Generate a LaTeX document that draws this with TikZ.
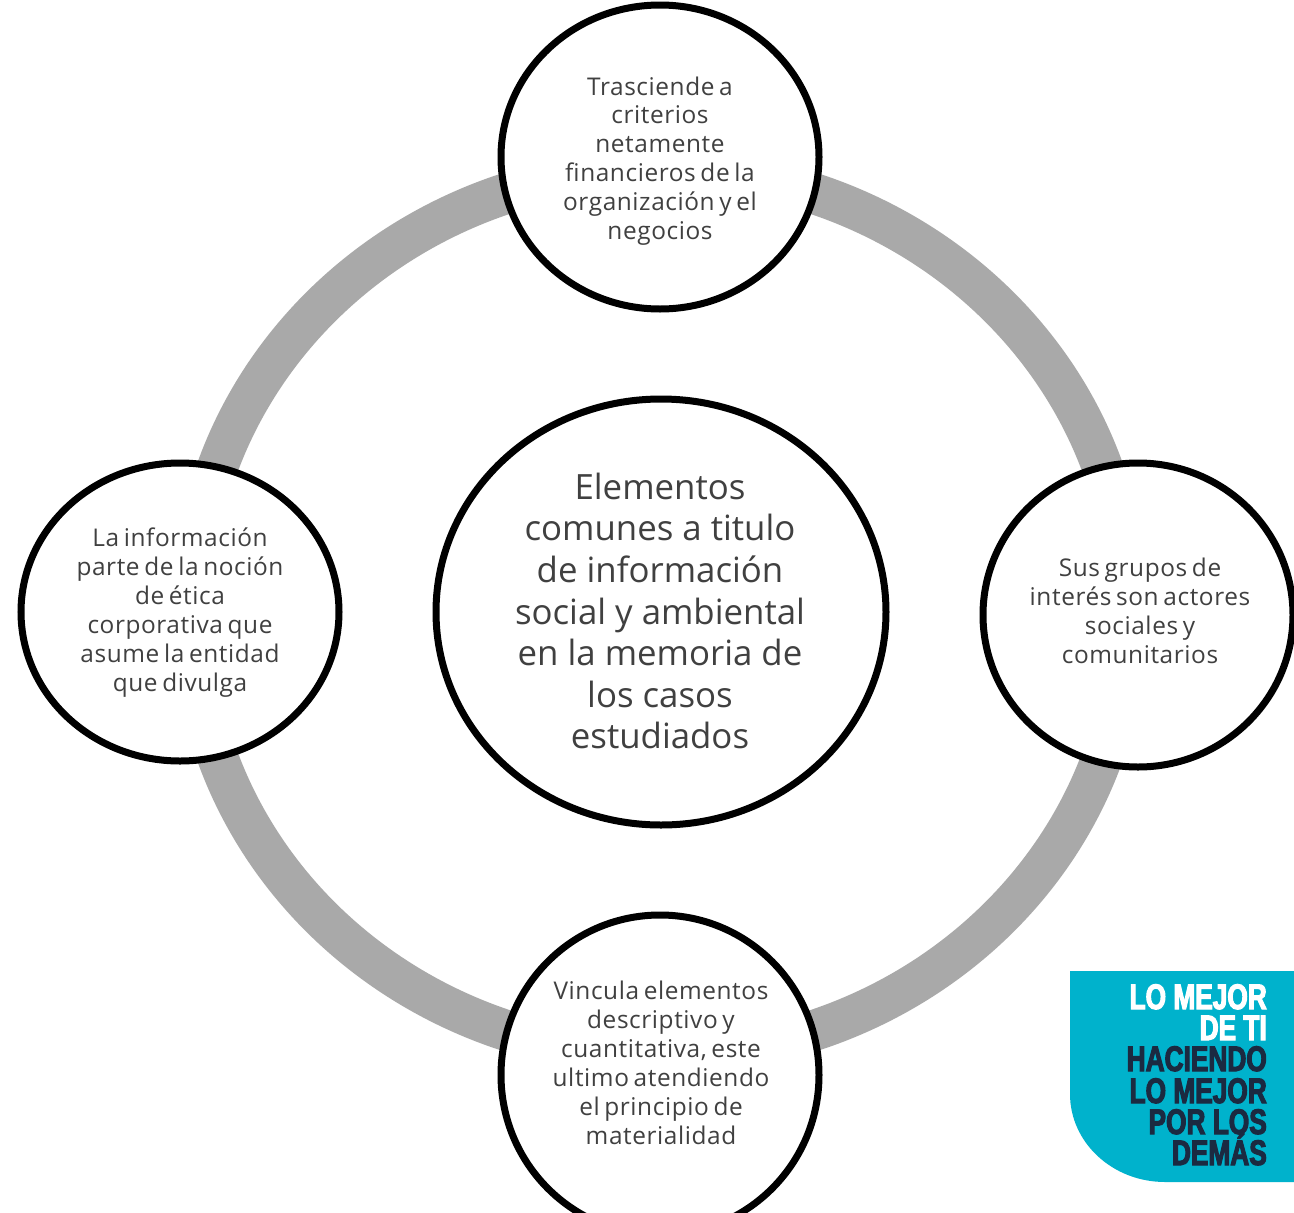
\documentclass[tikz,border=0pt]{standalone}
\usepackage{fontspec}
\setmainfont{Open Sans}
\newfontfamily\smallfont[LetterSpace=2.4,WordSpace=0.68]{Open Sans}
\newfontfamily\logofont[FakeStretch=0.74,FakeBold=3]{Liberation Sans Bold}
\definecolor{ringgray}{HTML}{A9A9A9}
\definecolor{txtgray}{HTML}{404040}
\definecolor{logoblue}{HTML}{00B2CC}
\definecolor{logodark}{HTML}{1B2A41}
\usetikzlibrary{shapes.geometric}
\tikzset{
  x=1pt,y=-1pt,
  bubble/.style={draw=black,line width=7pt,fill=white},
  bubbletext/.style={align=center,text=txtgray,font=\smallfont\fontsize{24.4}{28.9}\selectfont},
  maintext/.style={align=center,text=txtgray,font=\fontsize{34.8}{41.6}\selectfont},
  logoline/.style={anchor=base east,inner sep=0pt,font=\logofont\fontsize{35.5}{36}\selectfont}
}
\begin{document}
\begin{tikzpicture}
\useasboundingbox (0,0) rectangle (1294,1213);
\clip (0,0) rectangle (1294,1213);
\fill[white] (0,0) rectangle (1294,1213);
% ring
\draw[ringgray,line width=41pt] (660,612) ellipse [x radius=468,y radius=443];
% bubbles
\draw[bubble] (660,157) ellipse [x radius=159,y radius=152];
\draw[bubble] (661,612) ellipse [x radius=225,y radius=213];
\draw[bubble] (180,612) ellipse [x radius=159,y radius=149];
\draw[bubble] (1138,615) ellipse [x radius=155,y radius=152];
\draw[bubble] (660,1075) ellipse [x radius=159,y radius=160];
% texts
\node[bubbletext] (top) at (660,161) {Trasciende a\\criterios\\netamente\\financieros de la\\organización y el\\negocios};
\node[maintext] (centre) at (660,611) {Elementos\\comunes a titulo\\de información\\social y ambiental\\en la memoria de\\los casos\\estudiados};
\node[bubbletext] (left) at (180,612.5) {La información\\parte de la noción\\de ética\\corporativa que\\asume la entidad\\que divulga};
\node[bubbletext] (right) at (1140,610.5) {Sus grupos de\\interés son actores\\sociales y\\comunitarios};
\node[bubbletext] (bottom) at (661,1063) {Vincula elementos\\descriptivo y\\cuantitativa, este\\ultimo atendiendo\\el principio de\\materialidad};
% logo
\fill[logoblue] (1070,971) -- (1294,971) -- (1294,1182) -- (1165,1182) arc[start angle=90,end angle=180,x radius=95,y radius=88] -- cycle;
\node[logoline,text=white] (l1) at (1267,1009) {LO MEJOR};
\node[logoline,text=white] (l2) at (1267,1040) {DE TI};
\node[logoline,text=logodark] (l3) at (1267,1071) {HACIENDO};
\node[logoline,text=logodark] (l4) at (1267,1103) {LO MEJOR};
\node[logoline,text=logodark] (l5) at (1267,1134) {POR LOS};
\node[logoline,text=logodark] (l6) at (1267,1165) {DEMÁS};
\end{tikzpicture}
\end{document}
